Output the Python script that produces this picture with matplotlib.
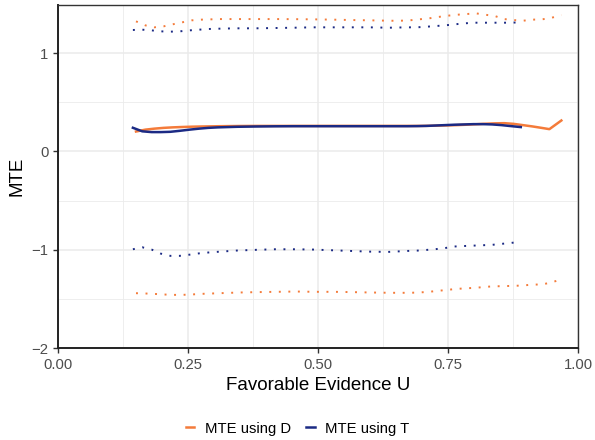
import matplotlib
matplotlib.use("Agg")
import matplotlib.pyplot as plt
from matplotlib.ticker import MultipleLocator

plt.rcParams['font.family'] = ['Liberation Sans', 'DejaVu Sans']

# ---- data ----
u_D = [0.150, 0.168, 0.185, 0.203, 0.220, 0.239, 0.257, 0.275, 0.311, 0.348,
       0.384, 0.420, 0.457, 0.494, 0.530, 0.566, 0.603, 0.639, 0.657, 0.676,
       0.694, 0.713, 0.731, 0.749, 0.767, 0.785, 0.804, 0.822, 0.840, 0.858,
       0.876, 0.894, 0.912, 0.930, 0.945, 0.968]
mte_D = [0.203, 0.222, 0.232, 0.240, 0.245, 0.249, 0.252, 0.254, 0.257, 0.259,
         0.260, 0.260, 0.260, 0.260, 0.260, 0.260, 0.260, 0.260, 0.260, 0.260,
         0.260, 0.261, 0.263, 0.265, 0.268, 0.272, 0.277, 0.282, 0.286, 0.288,
         0.281, 0.268, 0.255, 0.240, 0.227, 0.315]
upper_D = [1.324, 1.283, 1.263, 1.273, 1.293, 1.314, 1.334, 1.341, 1.347, 1.347,
           1.347, 1.347, 1.346, 1.344, 1.341, 1.337, 1.334, 1.330, 1.330, 1.334,
           1.344, 1.354, 1.368, 1.381, 1.391, 1.398, 1.405, 1.391, 1.378, 1.347,
           1.337, 1.330, 1.341, 1.344, 1.354, 1.388]
lower_D = [-1.442, -1.445, -1.449, -1.455, -1.459, -1.459, -1.455, -1.449, -1.442, -1.435,
           -1.431, -1.428, -1.425, -1.428, -1.428, -1.431, -1.435, -1.438, -1.438, -1.438,
           -1.435, -1.428, -1.418, -1.408, -1.398, -1.392, -1.387, -1.377, -1.372, -1.370,
           -1.367, -1.364, -1.354, -1.354, -1.337, -1.303]

u_T = [0.144, 0.162, 0.180, 0.198, 0.216, 0.234, 0.253, 0.271, 0.289, 0.307,
       0.344, 0.380, 0.417, 0.453, 0.490, 0.526, 0.562, 0.599, 0.635, 0.672,
       0.690, 0.708, 0.726, 0.744, 0.762, 0.781, 0.799, 0.817, 0.835, 0.853,
       0.871, 0.890]
mte_T = [0.241, 0.205, 0.197, 0.197, 0.200, 0.210, 0.222, 0.232, 0.240, 0.245,
         0.251, 0.254, 0.256, 0.257, 0.257, 0.257, 0.257, 0.257, 0.257, 0.257,
         0.258, 0.260, 0.264, 0.268, 0.272, 0.275, 0.278, 0.278, 0.275, 0.268,
         0.258, 0.248]
upper_T = [1.236, 1.239, 1.232, 1.222, 1.219, 1.222, 1.232, 1.239, 1.246, 1.249,
           1.253, 1.253, 1.256, 1.259, 1.263, 1.263, 1.263, 1.263, 1.259, 1.263,
           1.263, 1.269, 1.276, 1.283, 1.293, 1.303, 1.310, 1.310, 1.310, 1.310,
           1.310, 1.314]
lower_T = [-0.995, -0.975, -0.998, -1.040, -1.062, -1.062, -1.050, -1.037, -1.028, -1.021,
           -1.008, -1.001, -0.995, -0.995, -0.998, -1.005, -1.012, -1.019, -1.022, -1.012,
           -1.009, -1.002, -0.994, -0.983, -0.967, -0.962, -0.958, -0.954, -0.950, -0.940,
           -0.931, -0.917]

labels = ["MTE using D", "MTE using T"]
x_ticks = [0.00, 0.25, 0.50, 0.75, 1.00]
x_ticklabels = ["0.00", "0.25", "0.50", "0.75", "1.00"]
y_ticks = [-2, -1, 0, 1]
y_ticklabels = ["\u22122", "\u22121", "0", "1"]

c_D = "#F47B3A"
c_T = "#1B2A84"

fig = plt.figure(figsize=(5.95, 4.40), dpi=100)
ax = fig.add_axes([0.0975, 0.209, 0.8739, 0.7796])

dot = (0, (1, 3.9))
ax.plot(u_D, mte_D, color=c_D, lw=1.8, label=labels[0], zorder=3)
ax.plot(u_T, mte_T, color=c_T, lw=1.8, label=labels[1], zorder=4)
for y, c in [(upper_D, c_D), (lower_D, c_D), (upper_T, c_T), (lower_T, c_T)]:
    ax.plot(u_D if c == c_D else u_T, y, color=c, lw=1.4, linestyle=dot,
            dash_capstyle='butt', zorder=3)

ax.set_xlim(0, 1)
ax.set_ylim(-2, 1.49)
ax.set_xticks(x_ticks)
ax.set_xticklabels(x_ticklabels)
ax.set_yticks(y_ticks)
ax.set_yticklabels(y_ticklabels)
ax.xaxis.set_minor_locator(MultipleLocator(0.125))
ax.yaxis.set_minor_locator(MultipleLocator(0.5))

ax.grid(which='major', color='#EBEBEB', lw=1.1)
ax.grid(which='minor', color='#EBEBEB', lw=0.6)
ax.set_axisbelow(True)

for s in ['top', 'right']:
    ax.spines[s].set_color('#333333')
    ax.spines[s].set_linewidth(1.0)
for s in ['left', 'bottom']:
    ax.spines[s].set_color('#222222')
    ax.spines[s].set_linewidth(1.4)

ax.tick_params(which='major', length=3.5, width=1.0, color='#333333',
               labelcolor='#4D4D4D', labelsize=10.7, pad=3.5)
ax.tick_params(which='minor', length=0)

ax.set_xlabel("Favorable Evidence U", fontsize=13.5, color='black', labelpad=4)
ax.set_ylabel("MTE", fontsize=13.5, color='black', labelpad=4)

fig.legend(loc='center', bbox_to_anchor=(0.5, 0.026), ncol=2, frameon=False,
           fontsize=10.7, handlelength=0.6, handletextpad=0.7, columnspacing=1.0)

fig.savefig("out.png", dpi=100)
